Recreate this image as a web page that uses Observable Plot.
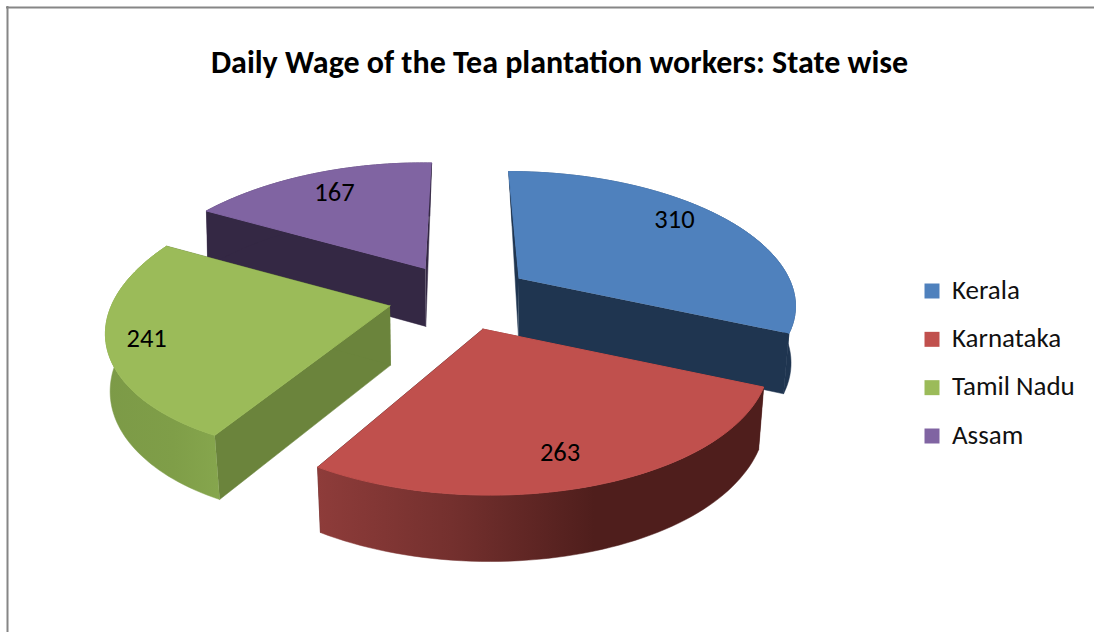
<!DOCTYPE html>
<html>
<head>
<meta charset="utf-8">
<script src="https://cdn.jsdelivr.net/npm/d3@7"></script>
<script src="https://cdn.jsdelivr.net/npm/@observablehq/plot@0.6"></script>
<style>
  html, body { margin: 0; background: #fff; }
  svg { display: block; }
</style>
</head>
<body>
<div id="chart"></div>
<script>
// Daily wage per state
const states = ["Kerala", "Karnataka", "Tamil Nadu", "Assam"];
const wages = [310, 263, 241, 167];
const chartTitle = "Daily Wage of the Tea plantation workers: State wise";

// Per-state colours: top surface, flat side faces
const topColors = ["#4f81bd", "#c0504d", "#9bbb59", "#8064a2"];
const faceColors = ["#1f3550", "#4f1e1c", "#6b843c", "#342844"];

// Camera used to lay the exploded pie on a tilted plane
const view = {cx: 460, cy: 296, sx: 275, sy: 130, persp: 0.216, depth: 59, depthPersp: 0.09, taper: 0.98, backLean: 0.08};
const explode = [0.262, 0.25, 0.262, 0.262];
const labelRadius = [0.82, 0.82, 0.86, 0.78];
const labelTurn = [-4.5, 2.5, -0.5, 0];
// Rim bulge at the first and last edge of each slice
const rimStart = [1, 1.01, 0.95, 1.02];
const rimEnd = [0.963, 1, 1.06, 0.985];
const paintOrder = [3, 0, 2, 1];

const slices = d3.pie().sort(null)(wages).map((arc, i) => {
  const mid = (arc.startAngle + arc.endAngle) / 2;
  const ox = explode[i] * Math.sin(mid);
  const oy = explode[i] * Math.cos(mid);
  const w = 1 + view.persp * oy;
  return {i, start: arc.startAngle, end: arc.endAngle, mid, oy,
    ax: view.cx + view.sx * ox / w, ay: view.cy - view.sy * oy / w};
});

// Project a point of a slice (radius, angle clockwise from the back) to the drawing plane
function project(s, r, angle, lower = false) {
  const X = r * Math.sin(angle);
  const Y = r * Math.cos(angle);
  const w = 1 + view.persp * Y;
  let x = view.cx + (s.ax - view.cx + view.sx * X) / w;
  let y = s.ay - view.sy * Y / w;
  if (lower) {
    y += view.depth / (1 + view.depthPersp * (s.oy + Y));
    const lean = Y >= 0
      ? view.taper + 0.01 + view.backLean * Math.pow(Y, 4)
      : Math.max(view.taper, view.taper + 0.01 + Y / 60);
    x = view.cx + (x - view.cx) * lean;
  }
  return {x, y};
}

function rimRadius(s, angle) {
  const t = (angle - s.start) / (s.end - s.start);
  return 1 + (rimStart[s.i] - 1) * Math.pow(1 - t, 2) + (rimEnd[s.i] - 1) * Math.pow(t, 3);
}

const arcAngles = (s) => d3.range(0, 61).map((k) => s.start + (s.end - s.start) * k / 60);
const rimPoint = (s, a, lower) => project(s, rimRadius(s, a), a, lower);

const topFace = (s) => [project(s, 0, 0), ...arcAngles(s).map((a) => rimPoint(s, a))];
const radialFace = (s, a) => [project(s, 0, 0), rimPoint(s, a), rimPoint(s, a, true), project(s, 0, 0, true)];
const rimFace = (s) => [
  ...arcAngles(s).map((a) => rimPoint(s, a)),
  ...arcAngles(s).reverse().map((a) => rimPoint(s, a, true))
];

const rimFill = ["#1f3550", "url(#rim-karnataka)", "url(#rim-tamil)", "#342844"];

// Every face carries a hairline of its own colour so that neighbouring faces close up
const polygon = (points, fill, seam) =>
  Plot.line(points, {x: "x", y: "y", fill, stroke: fill, strokeWidth: seam});

const pieMarks = paintOrder.flatMap((i) => {
  const s = slices[i];
  return [
    polygon(radialFace(s, s.start), faceColors[i], 0.5),
    polygon(radialFace(s, s.end), faceColors[i], 0.5),
    polygon(rimFace(s), rimFill[i], 0.5),
    polygon(topFace(s), topColors[i], 1)
  ];
});

const valueLabels = slices.map((s) => ({
  ...project(s, labelRadius[s.i], s.mid + labelTurn[s.i] * Math.PI / 180),
  text: String(wages[s.i])
}));

const legendY = d3.scalePoint().domain(states).range([289.5, 434.5]);
const swatchY = d3.scalePoint().domain(states).range([290.5, 435.5]);
const legendRows = states.map((name, i) => ({name, y: legendY(name), swatch: swatchY(name), color: topColors[i]}));

const gradient = (defs, id, stops) => {
  const g = defs.append("linearGradient").attr("id", id);
  stops.forEach(([offset, color]) => g.append("stop").attr("offset", offset).attr("stop-color", color));
};

const font = "Carlito, Calibri, Lato, sans-serif";

const chart = Plot.plot({
  width: 1094,
  height: 632,
  margin: 0,
  style: {background: "#fff"},
  x: {domain: [0, 1094], range: [0, 1094], axis: null},
  y: {domain: [0, 632], range: [0, 632], axis: null},
  marks: [
    () => {
      const defs = d3.create("svg:defs");
      gradient(defs, "rim-karnataka", [[0, "#8e3c3a"], [0.3, "#74302e"], [0.62, "#4f1e1c"], [1, "#4f1e1c"]]);
      gradient(defs, "rim-tamil", [[0, "#7c9a47"], [0.6, "#7f9e48"], [1, "#86a64d"]]);
      return defs.node();
    },
    // Chart area outline: only the top and left edges fall inside the page
    Plot.ruleX([7], {y1: 6, y2: 632, stroke: "#868686", strokeWidth: 2}),
    Plot.ruleY([7], {x1: 6, x2: 1094, stroke: "#868686", strokeWidth: 2}),
    ...pieMarks,
    Plot.text(valueLabels, {x: "x", y: "y", text: "text", fontSize: 26.5, fontFamily: font, fill: "#000"}),
    Plot.text([chartTitle], {x: [559], y: [62], text: (d) => d, fontSize: 32, fontWeight: 700, fontFamily: font, fill: "#000"}),
    Plot.dot(legendRows, {x: 931.5, y: "swatch", symbol: "square", r: 8.46, fill: "color", stroke: "none"}),
    Plot.text(legendRows, {x: 951.5, y: "y", text: "name", textAnchor: "start", fontSize: 27, fontFamily: font, fill: "#111"})
  ]
});

document.getElementById("chart").append(chart);
</script>
</body>
</html>
